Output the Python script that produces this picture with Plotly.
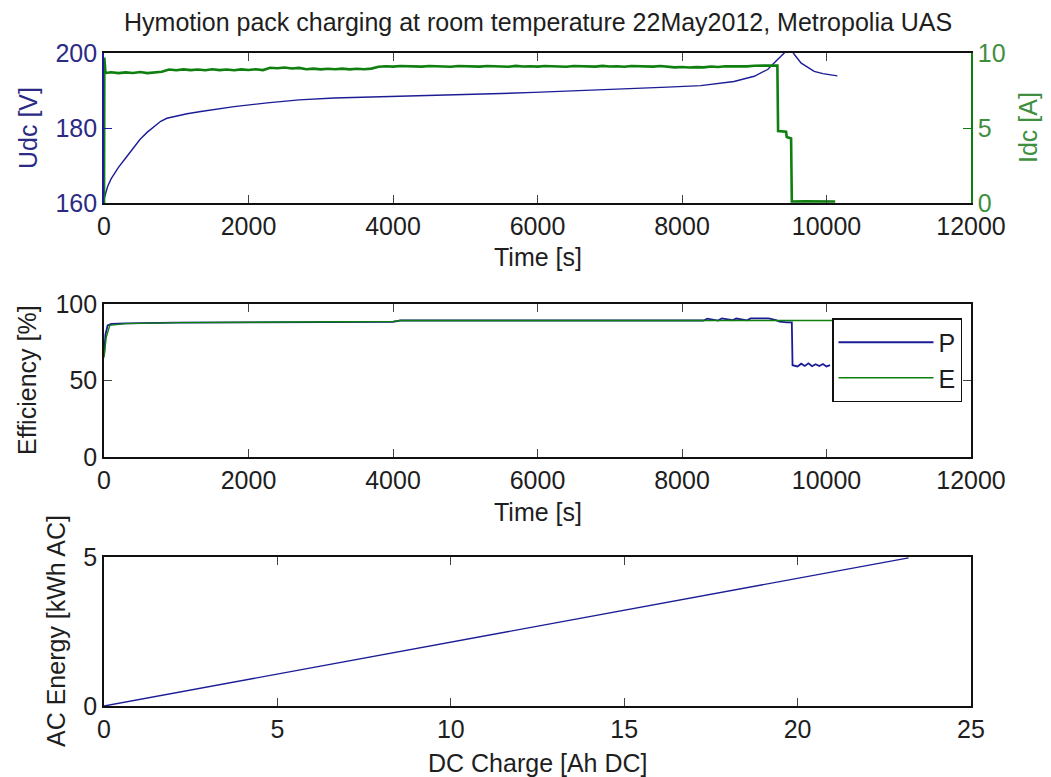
import plotly.graph_objects as go

# ---------------- data ----------------
# Top panel: DC voltage (left axis) and DC current (right axis) vs time
t_udc = [0, 15, 50, 100, 200, 300, 415, 500, 600, 700, 785, 870, 970, 1150, 1340,
         1800, 2260, 2700, 3185, 3600, 4110, 4600, 5030, 5500, 5955, 6400, 6875,
         7300, 7800, 8260, 8500, 8720, 9000, 9185, 9320, 9415, 9480, 9555, 9650,
         9750, 9830, 9950, 10110, 10150]
udc = [161.0, 162.0, 164.4, 166.5, 169.5, 172.0, 175.0, 177.0, 178.9, 180.6, 181.8,
       182.6, 183.1, 183.8, 184.4, 185.7, 186.7, 187.5, 188.0, 188.2, 188.4, 188.7,
       188.9, 189.2, 189.5, 189.8, 190.2, 190.5, 190.9, 191.3, 191.8, 192.4, 193.8,
       195.6, 198.2, 200.0, 201.8, 199.6, 197.3, 196.0, 195.1, 194.5, 194.0, 193.9]

t_idc = [0, 5, 20, 100, 200, 300, 400, 500, 600, 700, 800, 900, 1000, 1100, 1200,
         1300, 1400, 1500, 1600, 1700, 1800, 1900, 2000, 2100, 2200, 2300, 2400,
         2500, 2600, 2700, 2800, 2900, 3000, 3100, 3200, 3300, 3400, 3500, 3600,
         3700, 3800, 3900, 4000, 4100, 4200, 4300, 4400, 4500, 4600, 4700, 4800,
         4900, 5000, 5100, 5200, 5300, 5400, 5500, 5600, 5700, 5800, 5900, 6000,
         6100, 6200, 6300, 6400, 6500, 6600, 6700, 6800, 6900, 7000, 7100, 7200,
         7300, 7400, 7500, 7600, 7700, 7800, 7900, 8000, 8100, 8200, 8300, 8400,
         8500, 8600, 8700, 8800, 8900, 9000, 9100, 9200, 9320, 9330, 9440, 9450,
         9510, 9520, 9700, 9900, 10120]
idc = [0.0, 9.7, 8.66, 8.72, 8.66, 8.71, 8.67, 8.73, 8.66, 8.72, 8.75, 8.9, 8.85,
       8.91, 8.86, 8.9, 8.85, 8.92, 8.86, 8.9, 8.85, 8.91, 8.87, 8.92, 8.86, 9.02,
       8.98, 9.03, 8.97, 9.01, 8.92, 8.96, 8.91, 8.95, 8.92, 8.96, 8.91, 8.95, 8.92,
       8.96, 9.08, 9.12, 9.09, 9.13, 9.1, 9.12, 9.09, 9.13, 9.1, 9.12, 9.08, 9.13,
       9.1, 9.12, 9.09, 9.13, 9.1, 9.12, 9.08, 9.14, 9.1, 9.12, 9.09, 9.13, 9.1,
       9.12, 9.08, 9.13, 9.1, 9.12, 9.09, 9.14, 9.1, 9.12, 9.08, 9.13, 9.1, 9.12,
       9.09, 9.13, 9.1, 9.04, 9.07, 9.03, 9.06, 9.04, 9.1, 9.07, 9.12, 9.1, 9.13,
       9.11, 9.15, 9.13, 9.16, 9.16, 4.8, 4.75, 4.4, 4.3, 0.1, 0.12, 0.1, 0.1]

# Middle panel: efficiency
t_p = [0, 20, 50, 100, 300, 1000, 2000, 3000, 4000, 4100, 5000, 6000, 7000, 8000,
       8300, 8350, 8500, 8550, 8700, 8750, 8900, 8950, 9100, 9200, 9300, 9350,
       9450, 9520, 9530, 9600, 9650, 9700, 9750, 9800, 9850, 9900, 9950, 10000,
       10050]
eff_p = [66, 80, 86, 87, 87.3, 87.8, 88.0, 88.2, 88.3, 89.2, 89.2, 89.2, 89.2, 89.2,
         89.2, 90.4, 89.2, 90.6, 89.4, 90.5, 89.3, 90.6, 90.4, 90.6, 89.5, 88.5,
         88.0, 88.0, 60, 59.2, 61.0, 59.5, 61.2, 59.3, 60.6, 59.5, 60.8, 59.2, 60]
t_e = [0, 30, 80, 300, 1000, 2000, 4000, 4100, 6000, 8000, 10100]
eff_e = [65, 78, 86, 87.2, 87.8, 88.2, 88.6, 89.2, 89.2, 89.2, 89.2]

# Bottom panel: AC energy vs DC charge
dc_charge = [0, 5, 10, 15, 20, 23.2]
ac_energy = [0, 1.07, 2.13, 3.2, 4.28, 4.97]

time_ticks = [0, 2000, 4000, 6000, 8000, 10000, 12000]
time_tick_text = ["0", "2000", "4000", "6000", "8000", "10000", "12000"]
charge_ticks = [0, 5, 10, 15, 20, 25]

title_text = "Hymotion pack charging at room temperature 22May2012, Metropolia UAS"

# ---------------- styling ----------------
FONT = "Liberation Sans, Arial, sans-serif"
FS = 25
BLUE = "#1c1c96"
BLUE_TXT = "#2b2b86"
GREEN = "#0f7f0f"
GREEN_TXT = "#3f8f3f"
TXT = "#1e1e1e"

W, H = 1051, 777
x0, x1 = 104 / W, 971 / W


def ydom(top_px, bot_px):
    return [1 - bot_px / H, 1 - top_px / H]


fig = go.Figure()

fig.add_trace(go.Scatter(x=t_udc, y=udc, mode="lines", line=dict(color=BLUE, width=1.4),
                         xaxis="x", yaxis="y", showlegend=False))
fig.add_trace(go.Scatter(x=t_idc, y=idc, mode="lines", line=dict(color=GREEN, width=2.6),
                         xaxis="x", yaxis="y2", showlegend=False))
fig.add_trace(go.Scatter(x=t_p, y=eff_p, mode="lines", name="P",
                         line=dict(color=BLUE, width=1.8), xaxis="x2", yaxis="y3"))
fig.add_trace(go.Scatter(x=t_e, y=eff_e, mode="lines", name="E",
                         line=dict(color=GREEN, width=1.4), xaxis="x2", yaxis="y3"))
fig.add_trace(go.Scatter(x=dc_charge, y=ac_energy, mode="lines",
                         line=dict(color=BLUE, width=1.4), xaxis="x3", yaxis="y4",
                         showlegend=False))

common_axis = dict(showgrid=False, zeroline=False, showline=True, linewidth=1.6,
                   ticks="inside", ticklen=8, tickwidth=1.4, automargin=False,
                   tickfont=dict(family=FONT, size=FS, color=TXT))

fig.update_layout(
    template="none",
    width=W, height=H,
    margin=dict(l=0, r=0, t=0, b=0, autoexpand=False),
    paper_bgcolor="white", plot_bgcolor="white",
    font=dict(family=FONT, size=FS, color=TXT),
    xaxis=dict(common_axis, domain=[x0, x1], range=[0, 12000], tickvals=time_ticks,
               ticktext=time_tick_text, anchor="y", mirror="ticks", linecolor="#111"),
    yaxis=dict(common_axis, domain=ydom(53, 203), range=[160, 200],
               tickvals=[160, 180, 200], linecolor=BLUE, tickcolor=BLUE,
               tickfont=dict(family=FONT, size=FS, color=BLUE_TXT), anchor="x"),
    yaxis2=dict(common_axis, overlaying="y", side="right", range=[0, 10],
                tickvals=[0, 5, 10], linecolor=GREEN, tickcolor=GREEN,
                tickfont=dict(family=FONT, size=FS, color=GREEN_TXT), anchor="x"),
    xaxis2=dict(common_axis, domain=[x0, x1], range=[0, 12000], tickvals=time_ticks,
                ticktext=time_tick_text, anchor="y3", mirror="ticks", linecolor="#111"),
    yaxis3=dict(common_axis, domain=ydom(304, 457), range=[0, 100],
                tickvals=[0, 50, 100], anchor="x2", mirror="ticks", linecolor="#111"),
    xaxis3=dict(common_axis, domain=[x0, x1], range=[0, 25],
                tickvals=charge_ticks, anchor="y4", mirror="ticks",
                linecolor="#111"),
    yaxis4=dict(common_axis, domain=ydom(557, 706), range=[0, 5],
                tickvals=[0, 5], anchor="x3", mirror="ticks", linecolor="#111"),
    legend=dict(x=832 / W, y=1 - 318 / H, xanchor="left", yanchor="top",
                bgcolor="white", bordercolor="#111", borderwidth=1.5,
                font=dict(family=FONT, size=FS, color=TXT),
                itemwidth=95, tracegroupgap=0),
)

ann = [
    dict(text=title_text, x=(x0 + x1) / 2, y=1 - 22 / H, font=dict(size=FS, color=TXT)),
    dict(text="Time [s]", x=(x0 + x1) / 2, y=1 - 257 / H, font=dict(size=FS, color=TXT)),
    dict(text="Time [s]", x=(x0 + x1) / 2, y=1 - 512 / H, font=dict(size=FS, color=TXT)),
    dict(text="DC Charge [Ah DC]", x=(x0 + x1) / 2, y=1 - 763 / H,
         font=dict(size=FS, color=TXT)),
    dict(text="Udc [V]", x=28 / W, y=1 - 128 / H, textangle=-90,
         font=dict(size=FS, color=BLUE_TXT)),
    dict(text="Idc [A]", x=1028 / W, y=1 - 128 / H, textangle=-90,
         font=dict(size=FS, color=GREEN_TXT)),
    dict(text="Efficiency [%]", x=27 / W, y=1 - 380 / H, textangle=-90,
         font=dict(size=FS, color=TXT)),
    dict(text="AC Energy [kWh AC]", x=56 / W, y=1 - 631 / H, textangle=-90,
         font=dict(size=FS, color=TXT)),
]
for a in ann:
    a.update(xref="paper", yref="paper", showarrow=False, xanchor="center",
             yanchor="middle")
    a["font"]["family"] = FONT
fig.update_layout(annotations=ann)

fig.write_html("out.html")
